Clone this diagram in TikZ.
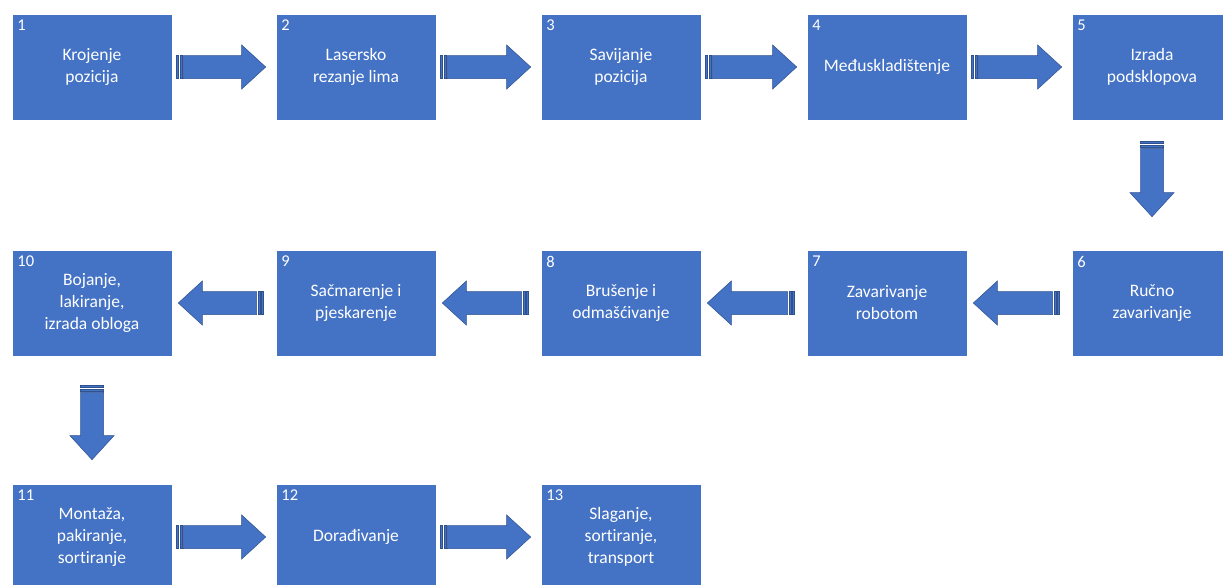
\documentclass[tikz,border=0pt]{standalone}
\usepackage{fontspec}
\setmainfont{Carlito}[Ligatures=NoCommon]
\usetikzlibrary{calc}
\definecolor{boxblue}{HTML}{4472C4}
\definecolor{arrowedge}{HTML}{2F528F}

% striped block arrow from #1 (tail) to #2 (tip)
\newcommand{\stripearrow}[2]{%
  \path let \p1=(#1), \p2=(#2),
    \n1={atan2(\y2-\y1,\x2-\x1)}, \n2={veclen(\x2-\x1,\y2-\y1)} in
    \pgfextra{\xdef\arrang{\n1}\xdef\arrlen{\n2}\xdef\arrx{\x1}\xdef\arry{\y1}};
  \begin{scope}[shift={(\arrx,\arry)}, rotate=\arrang]
    \filldraw[blockarrow] (0,-11.5) rectangle (2,11.5);
    \filldraw[blockarrow] (3.5,-11.5) rectangle (5.5,11.5);
    \filldraw[blockarrow] (7,-11.5) -- (\arrlen-24,-11.5) -- (\arrlen-24,-22) -- (\arrlen,0)
      -- (\arrlen-24,22) -- (\arrlen-24,11.5) -- (7,11.5) -- cycle;
  \end{scope}}

\begin{document}
\begin{tikzpicture}[x=1pt, y=1pt,
    box/.style={fill=boxblue, draw=white, line width=0.6pt, minimum width=160pt, minimum height=106pt,
      align=center, text=white, font=\fontsize{17.5}{22}\selectfont, inner sep=2pt},
    numlabel/.style={anchor=north west, text=white, font=\fontsize{16.5}{19}\selectfont,
      inner xsep=5.5pt, inner ysep=6pt},
    blockarrow/.style={fill=boxblue, draw=arrowedge, line width=0.5pt}
]
    \useasboundingbox (0,0) rectangle (1223,-584);

    % First row
    \node[box, label={[numlabel]north west:1}] (b1) at (92,-67) {Krojenje\\pozicija};
    \node[box, label={[numlabel]north west:2}] (b2) at (356,-67) {Lasersko\\rezanje lima};
    \node[box, label={[numlabel]north west:3}] (b3) at (621,-67) {Savijanje\\pozicija};
    \node[box, label={[numlabel]north west:4}] (b4) at (887,-67) {Međuskladištenje};
    \node[box, label={[numlabel]north west:5}] (b5) at (1152,-67) {Izrada\\podsklopova};

    % Second row
    \node[box, label={[numlabel]north west:6}] (b6) at (1152,-303) {Ručno\\zavarivanje};
    \node[box, label={[numlabel]north west:7}] (b7) at (887,-303) {Zavarivanje\\robotom};
    \node[box, label={[numlabel]north west:8}] (b8) at (621,-303) {Brušenje i\\odmašćivanje};
    \node[box, label={[numlabel]north west:9}] (b9) at (356,-303) {Sačmarenje i\\pjeskarenje};
    \node[box, label={[numlabel]north west:10}] (b10) at (92,-303) {Bojanje,\\lakiranje,\\izrada obloga};

    % Third row
    \node[box, label={[numlabel]north west:11}] (b11) at (92,-537) {Montaža,\\pakiranje,\\sortiranje};
    \node[box, label={[numlabel]north west:12}] (b12) at (356,-537) {Dorađivanje};
    \node[box, label={[numlabel]north west:13}] (b13) at (621,-537) {Slaganje,\\sortiranje,\\transport};

    % Arrows
    \stripearrow{$(b1.east)+(4,0)$}{$(b2.west)+(-10,0)$}
    \stripearrow{$(b2.east)+(4,0)$}{$(b3.west)+(-10,0)$}
    \stripearrow{$(b3.east)+(4,0)$}{$(b4.west)+(-10,0)$}
    \stripearrow{$(b4.east)+(4,0)$}{$(b5.west)+(-10,0)$}
    \stripearrow{$(b5.south)+(0,-21)$}{$(b6.north)+(0,33)$}
    \stripearrow{$(b6.west)+(-12,0)$}{$(b7.east)+(6,0)$}
    \stripearrow{$(b7.west)+(-12,0)$}{$(b8.east)+(6,0)$}
    \stripearrow{$(b8.west)+(-12,0)$}{$(b9.east)+(6,0)$}
    \stripearrow{$(b9.west)+(-12,0)$}{$(b10.east)+(6,0)$}
    \stripearrow{$(b10.south)+(0,-29)$}{$(b11.north)+(0,24)$}
    \stripearrow{$(b11.east)+(4,0)$}{$(b12.west)+(-10,0)$}
    \stripearrow{$(b12.east)+(4,0)$}{$(b13.west)+(-10,0)$}
\end{tikzpicture}
\end{document}
